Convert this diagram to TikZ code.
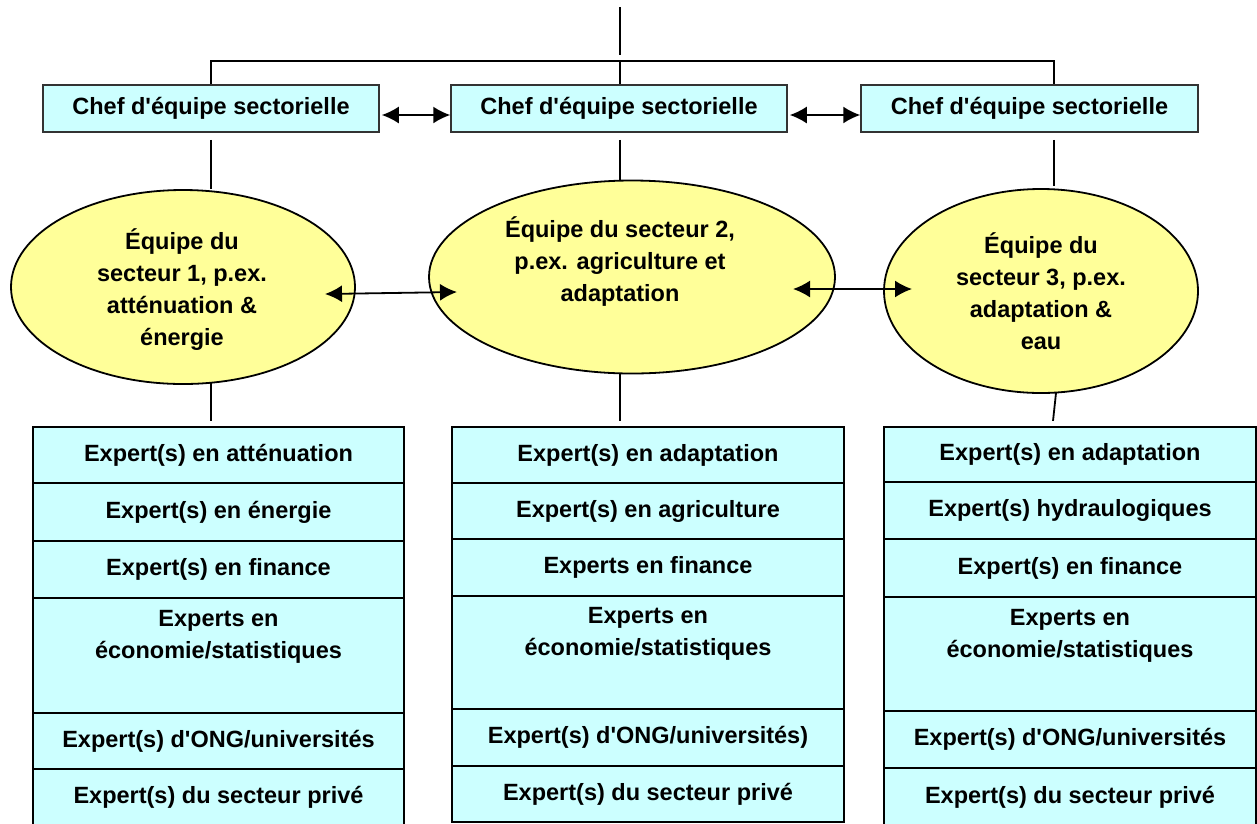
\documentclass[tikz,border=0pt]{standalone}
\usepackage{fontspec}
\setmainfont{Liberation Sans}[Ligatures=TeXOff]
\usetikzlibrary{shapes.geometric,arrows.meta}
\definecolor{boxcyan}{HTML}{CCFFFF}
\definecolor{elyellow}{HTML}{FFFF99}
\begin{document}
\begin{tikzpicture}[x=1pt,y=-1pt,
  txt/.style={font=\fontsize{23.5}{32}\selectfont\bfseries, align=center},
  chef/.style={txt, draw=black!80, line width=1.5pt, fill=boxcyan, minimum height=47pt, inner sep=0pt},
  row/.style={txt, draw=black, line width=2.2pt, fill=boxcyan, inner sep=0pt},
  ell/.style={ellipse, draw=black, line width=1.8pt, fill=elyellow, inner sep=0pt},
  conn/.style={line width=1.8pt},
  biarrow/.style={line width=1.8pt, {Latex[length=17pt,width=17pt]}-{Latex[length=17pt,width=17pt]}}]
\useasboundingbox (0,0) rectangle (1257,823);

% chef boxes
\node[chef, minimum width=336pt] (c1) at (211,108.5) {Chef d'équipe sectorielle};
\node[chef, minimum width=336pt] (c2) at (619,108.5) {Chef d'équipe sectorielle};
\node[chef, minimum width=337pt] (c3) at (1029.5,108.5) {Chef d'équipe sectorielle};

% ellipses
\node[ell, minimum width=344pt, minimum height=194pt] (e1) at (183,287) {};
\node[ell, minimum width=406pt, minimum height=193pt] (e2) at (632,277) {};
\node[ell, minimum width=314pt, minimum height=204pt] (e3) at (1041,291) {};
\node[txt] (e1t) at (182,290) {Équipe du\\secteur 1, p.ex.\\atténuation \&\\énergie};
\node[txt] (e2t) at (620,262) {Équipe du secteur 2,\\p.ex. agriculture et\\adaptation};
\node[txt] (e3t) at (1041,291) {Équipe du\\secteur 3, p.ex.\\adaptation \&\\eau};

% column 1
\node[row, minimum width=371pt, minimum height=56pt] (r11) at (218.5,455) {Expert(s) en atténuation};
\node[row, minimum width=371pt, minimum height=58pt] (r12) at (218.5,512) {Expert(s) en énergie};
\node[row, minimum width=371pt, minimum height=57pt] (r13) at (218.5,569.5) {Expert(s) en finance};
\node[row, minimum width=371pt, minimum height=115pt] (r14) at (218.5,655.5) {Experts en\\économie/statistiques\\\strut};
\node[row, minimum width=371pt, minimum height=56pt] (r15) at (218.5,741) {Expert(s) d'ONG/universités};
\node[row, minimum width=371pt, minimum height=57pt] (r16) at (218.5,797.5) {Expert(s) du secteur privé};

% column 2
\node[row, minimum width=392pt, minimum height=56pt] (r21) at (648,455) {Expert(s) en adaptation};
\node[row, minimum width=392pt, minimum height=56pt] (r22) at (648,511) {Expert(s) en agriculture};
\node[row, minimum width=392pt, minimum height=57pt] (r23) at (648,567.5) {Experts en finance};
\node[row, minimum width=392pt, minimum height=113pt] (r24) at (648,652.5) {Experts en\\économie/statistiques\\\strut};
\node[row, minimum width=392pt, minimum height=57pt] (r25) at (648,737.5) {Expert(s) d'ONG/universités)};
\node[row, minimum width=392pt, minimum height=56pt] (r26) at (648,794) {Expert(s) du secteur privé};

% column 3
\node[row, minimum width=372pt, minimum height=55pt] (r31) at (1070,454.5) {Expert(s) en adaptation};
\node[row, minimum width=372pt, minimum height=57pt] (r32) at (1070,510.5) {Expert(s) hydraulogiques};
\node[row, minimum width=372pt, minimum height=58pt] (r33) at (1070,568) {Expert(s) en finance};
\node[row, minimum width=372pt, minimum height=114pt] (r34) at (1070,654) {Experts en\\économie/statistiques\\\strut};
\node[row, minimum width=372pt, minimum height=57pt] (r35) at (1070,739.5) {Expert(s) d'ONG/universités};
\node[row, minimum width=372pt, minimum height=58pt] (r36) at (1070,797) {Expert(s) du secteur privé};

% top connectors
\coordinate (topA) at (620,7);
\coordinate (topB) at (620,55);
\coordinate (bl) at (211,61);
\coordinate (bm) at (620,61);
\coordinate (br) at (1054,61);
\draw[conn] (topA) -- (topB);
\draw[conn] (c1.north -| bl) -- (bl) -- (br) -- (c3.north -| br);
\draw[conn] (bm) -- (c2.north -| bm);

% chef to ellipse
\draw[conn] ([yshift=-7pt]c1.south -| bl) -- (e1.north -| bl);
\draw[conn] ([yshift=-7pt]c2.south -| bm) -- (e2.north -| bm);
\draw[conn] ([yshift=-7pt]c3.south -| br) -- ([yshift=2pt]e3.north -| br);

% ellipse to columns
\coordinate (k1) at (211,383);
\coordinate (k3) at (1056,393);
\draw[conn] (k1) -- ([yshift=5pt]r11.north -| bl);
\draw[conn] (e2.south -| bm) -- ([yshift=5pt]r21.north -| bm);
\draw[conn] (k3) -- ([yshift=5pt]r31.north -| 1053,0);

% arrows between chef boxes
\draw[biarrow] ([yshift=-6.5pt,xshift=2pt]c1.east) -- ([yshift=-6.5pt]c2.west);
\draw[biarrow] ([yshift=-6.5pt,xshift=2pt]c2.east) -- ([yshift=-6.5pt]c3.west);

% arrows between ellipses
\coordinate (a1) at (325,294);
\coordinate (a2) at (457,292);
\coordinate (a3) at (793,289);
\coordinate (a4) at (912,289);
\draw[biarrow] (a1) -- (a2);
\draw[biarrow] (a3) -- (a4);
\end{tikzpicture}
\end{document}
